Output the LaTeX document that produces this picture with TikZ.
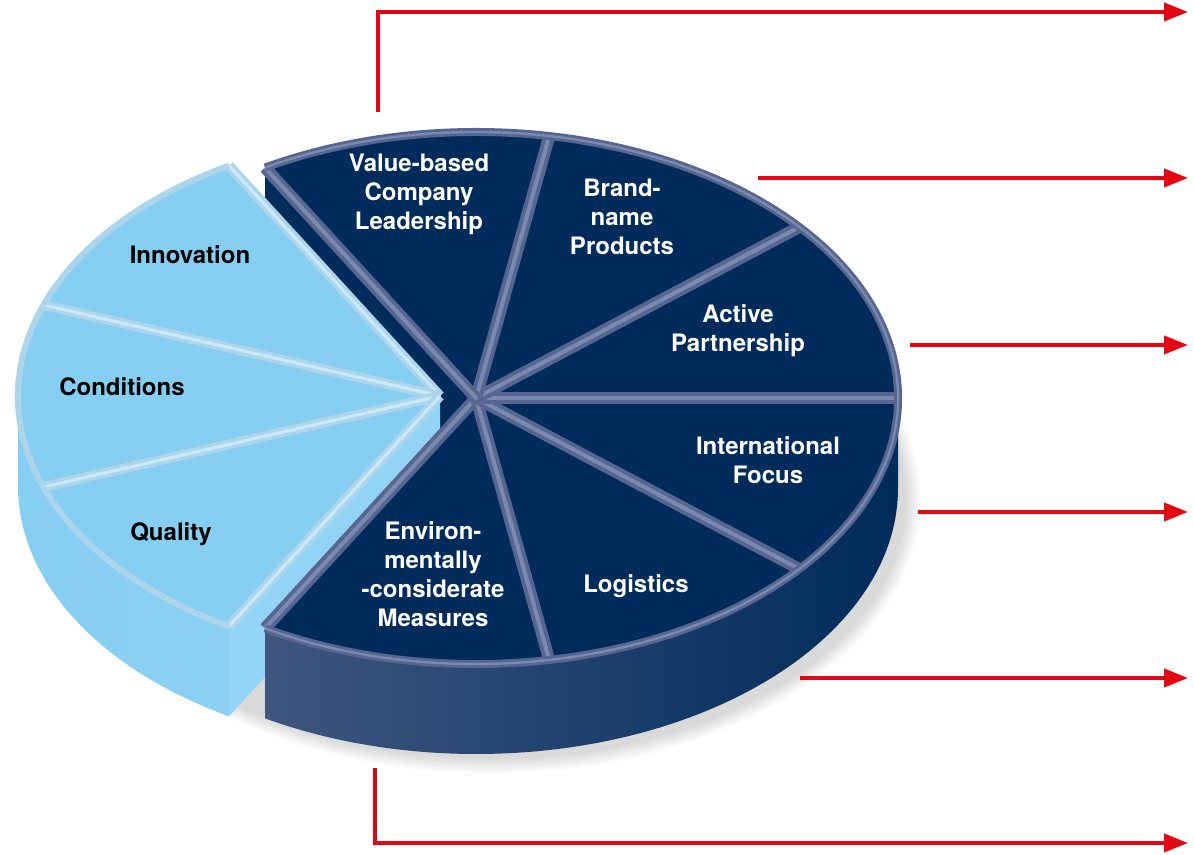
\documentclass[tikz,border=0pt]{standalone}
\usepackage{fontspec}
\setmainfont{TeX Gyre Heros}
\usepackage{tikz}
\usetikzlibrary{positioning, arrows.meta, calc}
\definecolor{navy}{RGB}{0,43,90}
\definecolor{navyside}{RGB}{62,86,128}
\definecolor{ridgeb}{RGB}{86,102,144}
\definecolor{ridgehi}{RGB}{122,137,174}
\definecolor{skyb}{RGB}{134,206,242}
\definecolor{skyside}{RGB}{146,212,246}
\definecolor{skyridge}{RGB}{172,212,234}
\definecolor{arrred}{RGB}{227,6,19}

\begin{document}
\begin{tikzpicture}[x=0.5pt, y=0.5pt,
            rim/.style={x radius=422, y radius=266},
            dl/.style={text=white, font=\bfseries\fontsize{12}{14.5}\selectfont, align=center},
            ll/.style={text=black, font=\bfseries\fontsize{12}{14.5}\selectfont, align=center},
            ridge/.style={draw=ridgeb, line width=6pt, line join=round},
            ridgehl/.style={draw=ridgehi, line width=2pt},
            sridge/.style={draw=skyridge, line width=5pt, line join=round},
            sridgehl/.style={draw=white!55!skyb, line width=1.6pt},
            ->/.style={-{Triangle[length=12pt, width=9pt]}, draw=arrred, line width=2pt}]
          \useasboundingbox (0,0) rectangle (1194,855);
          \coordinate (D) at (476,457);
          \coordinate (L) at (440,459);
          % soft shadow
          \foreach \i in {1,...,8}
            \fill[black, opacity=0.02] (490,356) ellipse [x radius=414+2*\i, y radius=258+2*\i];
          % dark cut face behind the light part
          \fill[navy] (D) -- ++(120:422 and 266) -- ++(0,-90) -- ($(D)+(0,-90)$) -- cycle;
          % light part
          \shade[left color=skyb, right color=skyside]
            (L) ++(180:422 and 266) arc[rim, start angle=180, end angle=240]
            -- ++(0,-90) arc[rim, start angle=240, end angle=180] -- cycle;
          \fill[skyside] (L) -- ++(240:422 and 266) -- ++(0,-90) -- ($(L)+(0,-90)$) -- cycle;
          \foreach \a in {120,160,200}
            \fill[skyb] (L) -- ++(\a:422 and 266) arc[rim, start angle=\a, delta angle=40] -- cycle;
          \foreach \a in {120,160,200,240} {
            \draw[sridge] (L) -- ++(\a:422 and 266);
            \draw[sridgehl] (L) -- ++(\a:422 and 266);
          }
          \draw[sridge, line width=3pt] (L) ++(120:422 and 266) arc[rim, start angle=120, end angle=240];
          % dark part
          \shade[left color=navyside, right color=navy]
            (D) ++(-120:422 and 266) arc[rim, start angle=-120, end angle=0]
            -- ++(0,-90) arc[rim, start angle=0, end angle=-120] -- cycle;
          \foreach \a in {-120,-80,...,80}
            \fill[navy] (D) -- ++(\a:422 and 266) arc[rim, start angle=\a, delta angle=40] -- cycle;
          \foreach \a in {-120,-80,...,120} {
            \draw[ridge] (D) -- ++(\a:422 and 266);
            \draw[ridgehl] (D) -- ++(\a:422 and 266);
          }
          \draw[ridge, line width=4pt] (D) ++(-120:422 and 266) arc[rim, start angle=-120, end angle=120];
          \draw[ridgehl, line width=1.2pt] (D) ++(-120:422 and 266) arc[rim, start angle=-120, end angle=120];
          % labels
          \node[dl] (value) at (419,661) {Value-based\\Company\\Leadership};
          \node[dl] (brand) at (622,638) {Brand-\\name\\Products};
          \node[dl] (active) at (738,524) {Active\\Partnership};
          \node[dl] (intl) at (768,395) {International\\Focus};
          \node[dl] (logi) at (636,269) {Logistics};
          \node[dl] (envi) at (433,281) {Environ-\\mentally\\-considerate\\Measures};
          \node[ll] (innov) at (190,600) {Innovation};
          \node[ll] (cond) at (122,468) {Conditions};
          \node[ll] (qual) at (171,321) {Quality};
          % arrows
          \coordinate (a1s) at (378,743); \coordinate (a1c) at (378,843); \coordinate (a1e) at (1188,843);
          \coordinate (a2s) at (758,677); \coordinate (a2e) at (1188,677);
          \coordinate (a3s) at (910,510); \coordinate (a3e) at (1188,510);
          \coordinate (a4s) at (918,343); \coordinate (a4e) at (1188,343);
          \coordinate (a5s) at (800,177); \coordinate (a5e) at (1188,177);
          \coordinate (a6s) at (375,87); \coordinate (a6c) at (375,12); \coordinate (a6e) at (1188,12);
          \draw [->] (a1s) -- (a1c) -- (a1e);
          \draw [->] (a2s) -- (a2e);
          \draw [->] (a3s) -- (a3e);
          \draw [->] (a4s) -- (a4e);
          \draw [->] (a5s) -- (a5e);
          \draw [->] (a6s) -- (a6c) -- (a6e);
        \end{tikzpicture}
\end{document}
